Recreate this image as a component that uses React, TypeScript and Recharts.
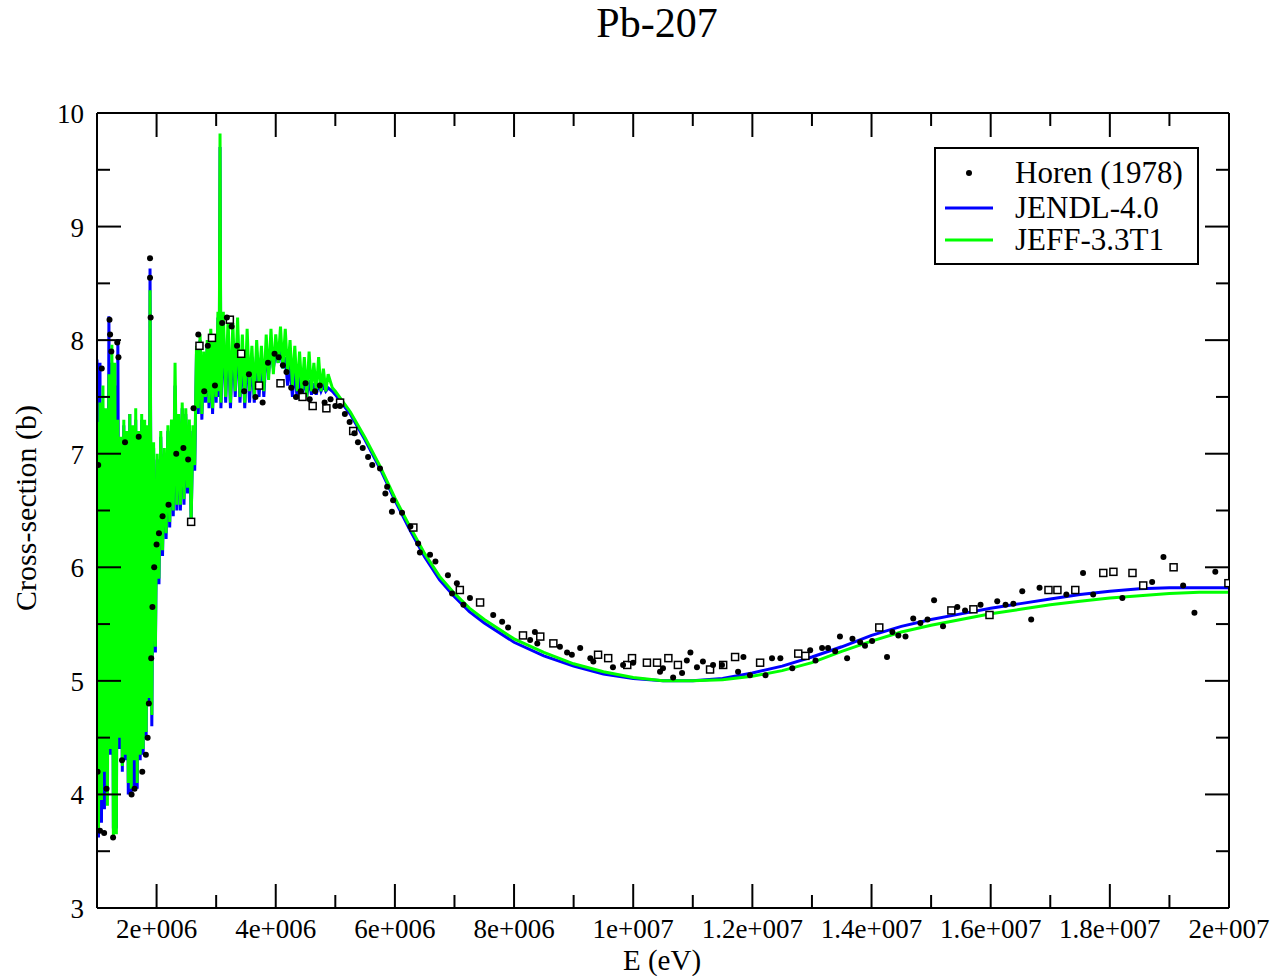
import React from 'react'
import { ComposedChart, Line, Scatter, XAxis, YAxis } from 'recharts'

const FONT = '"Liberation Serif", "Times New Roman", serif'
const BLUE = '#0000ff'
const GREEN = '#00ff00'
const INK = '#000'

// energies in MeV, cross-sections in barns
const resE = [
  1.000, 1.025, 1.050, 1.075, 1.100, 1.125, 1.150, 1.175, 1.200, 1.225, 1.250, 1.275, 1.300, 1.325, 1.350, 1.375,
  1.400, 1.425, 1.450, 1.475, 1.500, 1.525, 1.550, 1.575, 1.600, 1.625, 1.650, 1.675, 1.700, 1.725, 1.750, 1.775,
  1.800, 1.825, 1.850, 1.875, 1.890,
  1.92, 1.95, 1.98, 2.01, 2.04, 2.07, 2.10, 2.13, 2.16, 2.19, 2.22, 2.25, 2.28, 2.31, 2.34, 2.37, 2.40, 2.43, 2.46,
  2.49, 2.52, 2.55, 2.58, 2.61, 2.64, 2.67, 2.70, 2.73, 2.76, 2.79, 2.82, 2.85, 2.88, 2.91, 2.94, 2.97, 3.00, 3.03,
  3.05, 3.065, 3.08,
  3.12, 3.16, 3.20, 3.24, 3.28, 3.32, 3.36, 3.40, 3.44, 3.48, 3.52, 3.56, 3.60, 3.64, 3.68, 3.72, 3.76, 3.80, 3.84,
  3.88, 3.92, 3.96, 4.00, 4.04, 4.08, 4.12, 4.16, 4.20, 4.24, 4.28, 4.32, 4.36, 4.40, 4.44, 4.48, 4.52, 4.56, 4.60,
  4.64, 4.68, 4.72, 4.76, 4.80, 4.84, 4.88,
]
const jendlRes = [
  7.83, 3.62, 7.80, 3.75, 7.40, 3.87, 7.35, 4.20, 8.21, 4.35, 7.80, 3.70, 7.60, 3.70, 8.01, 4.40,
  7.10, 4.20, 7.25, 4.30, 7.15, 4.00, 7.35, 4.00, 7.20, 4.05, 7.30, 4.05, 7.15, 4.30, 7.30, 4.35,
  7.25, 4.50, 7.20, 4.80, 8.63,
  4.60, 7.05, 5.25, 6.95, 5.85, 7.15, 6.10, 7.00, 6.25, 7.20, 6.35, 7.25, 6.45, 7.60, 6.50, 7.30, 6.50, 7.40, 6.55,
  7.35, 6.65, 7.25, 6.40, 7.20, 6.85, 7.90, 7.35, 8.00, 7.30, 7.85, 7.45, 7.95, 7.40, 8.05, 7.35, 8.00, 7.45, 8.20,
  7.50, 9.70, 7.40,
  8.10, 7.45, 8.05, 7.40, 8.00, 7.50, 8.05, 7.45, 7.90, 7.40, 7.95, 7.45, 7.85, 7.45, 7.90, 7.50, 7.85, 7.50, 7.90,
  7.70, 7.95, 7.75, 7.90, 7.80, 7.92, 7.75, 7.85, 7.60, 7.80, 7.50, 7.75, 7.48, 7.70, 7.50, 7.68, 7.50, 7.65, 7.52,
  7.62, 7.52, 7.62, 7.55, 7.60, 7.55, 7.58,
]
const jeffRes = [
  7.28, 3.70, 7.45, 3.95, 7.60, 4.20, 7.40, 3.90, 7.70, 4.40, 7.96, 3.62, 7.80, 3.65, 7.30, 4.50,
  7.15, 4.25, 7.30, 4.35, 7.20, 4.10, 7.35, 4.05, 7.25, 4.30, 7.40, 4.10, 7.20, 4.35, 7.35, 4.40,
  7.30, 4.55, 7.25, 4.85, 8.44,
  4.70, 7.10, 5.30, 7.00, 5.90, 7.20, 6.15, 7.05, 6.30, 7.25, 6.40, 7.30, 6.50, 7.80, 6.55, 7.35, 6.55, 7.45, 6.60,
  7.40, 6.70, 7.30, 6.40, 7.25, 6.90, 7.95, 7.40, 8.05, 7.35, 7.90, 7.50, 8.00, 7.45, 8.10, 7.40, 8.05, 7.50, 8.25,
  7.55, 9.82, 7.45,
  8.25, 7.50, 8.20, 7.45, 8.15, 7.55, 8.20, 7.50, 8.05, 7.45, 8.10, 7.55, 7.95, 7.50, 8.00, 7.60, 7.95, 7.55, 8.05,
  7.65, 8.10, 7.70, 8.05, 7.80, 8.12, 7.75, 8.10, 7.70, 8.00, 7.60, 7.95, 7.55, 7.90, 7.55, 7.85, 7.50, 7.90, 7.55,
  7.80, 7.55, 7.85, 7.55, 7.75, 7.55, 7.70,
]
const smoothE = [
  4.95, 5.0, 5.25, 5.5, 5.75, 6.0, 6.25, 6.5, 6.75, 7.0, 7.25, 7.5, 8.0, 8.5, 9.0, 9.5, 10.0, 10.5, 11.0,
  11.5, 12.0, 12.5, 13.0, 13.5, 14.0, 14.5, 15.0, 15.5, 16.0, 16.5, 17.0, 17.5, 18.0, 18.5, 19.0, 19.5, 20.0,
]
const jendlSmooth = [
  7.55, 7.52, 7.35, 7.12, 6.87, 6.59, 6.33, 6.09, 5.89, 5.74, 5.61, 5.51, 5.34, 5.22, 5.13, 5.06, 5.02, 5.00, 5.00,
  5.02, 5.07, 5.13, 5.21, 5.30, 5.40, 5.48, 5.54, 5.59, 5.64, 5.68, 5.72, 5.76, 5.79, 5.81, 5.82, 5.82, 5.82,
]
const jeffSmooth = [
  7.58, 7.55, 7.37, 7.14, 6.89, 6.61, 6.36, 6.12, 5.92, 5.77, 5.64, 5.54, 5.37, 5.25, 5.15, 5.08, 5.03, 5.00, 5.00,
  5.01, 5.04, 5.09, 5.16, 5.26, 5.35, 5.43, 5.49, 5.54, 5.59, 5.63, 5.67, 5.70, 5.73, 5.75, 5.77, 5.78, 5.78,
]

// Horen (1978), filled dots
const horenE = [
  1.01, 1.02, 1.05, 1.08, 1.12, 1.16, 1.21, 1.22, 1.24, 1.27, 1.34, 1.36, 1.42, 1.47, 1.58, 1.63, 1.70, 1.76, 1.82,
  1.85, 1.87, 1.89, 1.89, 1.90, 1.91, 1.93, 1.96, 2.00, 2.04, 2.10, 2.20, 2.33, 2.45, 2.53, 2.62, 2.70, 2.80, 2.86,
  2.98, 3.10, 3.18, 3.26, 3.35, 3.47, 3.55, 3.66, 3.78, 3.87, 3.98, 4.05, 4.12, 4.18, 4.26, 4.34, 4.42, 4.50, 4.57,
  4.66, 4.74, 4.82, 4.92, 5.00, 5.08, 5.16, 5.24, 5.32, 5.38, 5.46, 5.55, 5.62,
  5.75, 5.84, 5.87, 5.95, 5.97, 6.12, 6.26, 6.39, 6.42, 6.59, 6.68, 6.89, 6.96, 7.04, 7.15, 7.26, 7.65, 7.80, 7.90,
  8.27, 8.35, 8.39, 8.77, 8.89, 8.97, 9.11, 9.28, 9.33, 9.66, 9.83, 10.00, 10.45, 10.50, 10.67, 10.82, 10.90, 10.96,
  11.07, 11.17, 11.34, 11.49, 11.76, 11.85, 11.96, 12.22, 12.33, 12.47, 12.67,
  12.97, 13.06, 13.17, 13.27, 13.39, 13.47, 13.59, 13.68, 13.81, 13.89, 14.01, 14.26, 14.35, 14.45, 14.57, 14.70,
  14.82, 14.94, 15.05, 15.20, 15.44, 15.57, 15.83, 16.11, 16.25, 16.38, 16.53, 16.68, 16.82, 17.27, 17.55, 17.72,
  18.21, 18.71, 18.90, 19.23, 19.42, 19.77,
]
const horenXS = [
  4.20, 6.90, 3.68, 7.75, 3.66, 4.05, 8.18, 8.05, 7.90, 3.62, 7.98, 7.85, 4.30, 7.10, 4.00, 4.05, 7.15, 4.20, 4.35,
  4.50, 4.80, 8.72, 8.55, 8.20, 5.20, 5.65, 6.00, 6.20, 6.30, 6.45, 6.55, 7.00, 7.05, 6.95, 7.40, 8.05, 7.55, 7.95,
  7.60, 8.15, 8.20, 8.12, 7.95, 7.55, 7.70, 7.50, 7.45, 7.80, 7.88, 7.85, 7.78, 7.72, 7.58, 7.50, 7.55, 7.62, 7.48,
  7.55, 7.60, 7.45, 7.48, 7.42, 7.42, 7.35, 7.28, 7.18, 7.10, 7.05, 6.97, 6.90,
  6.87, 6.65, 6.71, 6.49, 6.59, 6.48, 6.36, 6.21, 6.13, 6.11, 6.05, 5.93, 5.77, 5.86, 5.67, 5.73, 5.58, 5.52, 5.47,
  5.36, 5.43, 5.33, 5.30, 5.25, 5.23, 5.29, 5.20, 5.17, 5.12, 5.14, 5.16, 5.08, 5.11, 5.03, 5.07, 5.18, 5.25,
  5.12, 5.17, 5.14, 5.14, 5.08, 5.21, 5.05, 5.05, 5.20, 5.20, 5.11,
  5.27, 5.18, 5.29, 5.29, 5.26, 5.39, 5.20, 5.37, 5.34, 5.31, 5.35, 5.21, 5.43, 5.40, 5.39, 5.55,
  5.51, 5.54, 5.71, 5.48, 5.65, 5.62, 5.67, 5.70, 5.67, 5.68, 5.79, 5.54, 5.82, 5.76, 5.95, 5.76,
  5.73, 5.87, 6.09, 5.84, 5.60, 5.96,
]
// second experimental set, open squares (no legend entry)
const boxE = [
  2.58, 2.72, 2.93, 3.23, 3.42, 3.72, 4.08, 4.45, 4.62, 4.85, 5.08, 5.30, 6.31, 7.09, 7.43, 8.15, 8.44, 8.66, 9.41,
  9.58, 9.90, 9.98, 10.23, 10.40, 10.59, 10.75, 11.29, 11.51, 11.71, 12.13, 12.77, 12.89, 14.13, 15.34, 15.71, 15.98,
  16.97, 17.12, 17.42, 17.89, 18.06, 18.38, 18.56, 19.07, 19.99,
]
const boxXS = [
  6.40, 7.95, 8.02, 8.18, 7.88, 7.60, 7.62, 7.50, 7.42, 7.40, 7.45, 7.20, 6.35, 5.80, 5.69, 5.40, 5.39, 5.33, 5.23,
  5.20, 5.14, 5.20, 5.16, 5.16, 5.20, 5.14, 5.10, 5.14, 5.21, 5.16, 5.24, 5.22, 5.47, 5.62, 5.63, 5.58,
  5.80, 5.80, 5.80, 5.95, 5.96, 5.95, 5.84, 6.00, 5.86,
]

const xMajor = [2e6, 4e6, 6e6, 8e6, 1e7, 1.2e7, 1.4e7, 1.6e7, 1.8e7, 2e7]
const xMinor = [3e6, 5e6, 7e6, 9e6, 1.1e7, 1.3e7, 1.5e7, 1.7e7, 1.9e7]
const yMajor = [3, 4, 5, 6, 7, 8, 9, 10]
const yMinor = [3.5, 4.5, 5.5, 6.5, 7.5, 8.5, 9.5]

const toPts = (es: number[], vs: number[]) => es.map((e, i) => ({ e: e * 1e6, v: vs[i] }))
const jendlData = [...toPts(resE, jendlRes), ...toPts(smoothE, jendlSmooth)]
const jeffData = [...toPts(resE, jeffRes), ...toPts(smoothE, jeffSmooth)]
const horenData = toPts(horenE, horenXS)
const boxData = toPts(boxE, boxXS)

const fmtE = (v: number) => {
  const exp = Math.floor(Math.log10(v))
  const m = +(v / 10 ** exp).toFixed(3)
  return `${m}e+${String(exp).padStart(3, '0')}`
}

const MAJ = 24
const MIN = 13
const TICK_FS = 27

function BottomTick({ x, y, payload }: any) {
  const major = xMajor.includes(payload.value)
  return (
    <g>
      <line x1={x} x2={x} y1={y} y2={y - (major ? MAJ : MIN)} stroke={INK} strokeWidth={2} />
      {major && (
        <text x={x} y={y + 30} textAnchor="middle" fontFamily={FONT} fontSize={TICK_FS} fill={INK}>
          {fmtE(payload.value)}
        </text>
      )}
    </g>
  )
}
function TopTick({ x, y, payload }: any) {
  const major = xMajor.includes(payload.value)
  return <line x1={x} x2={x} y1={y} y2={y + (major ? MAJ : MIN)} stroke={INK} strokeWidth={2} />
}
function LeftTick({ x, y, payload }: any) {
  const major = yMajor.includes(payload.value)
  return (
    <g>
      <line x1={x} x2={x + (major ? MAJ : MIN)} y1={y} y2={y} stroke={INK} strokeWidth={2} />
      {major && (
        <text x={x - 13} y={y + 10} textAnchor="end" fontFamily={FONT} fontSize={TICK_FS} fill={INK}>
          {payload.value}
        </text>
      )}
    </g>
  )
}
function RightTick({ x, y, payload }: any) {
  const major = yMajor.includes(payload.value)
  return <line x1={x} x2={x - (major ? MAJ : MIN)} y1={y} y2={y} stroke={INK} strokeWidth={2} />
}

const Dot = (p: any) => <circle cx={p.cx} cy={p.cy} r={3} fill={INK} />
const Box = (p: any) => (
  <rect x={p.cx - 3.5} y={p.cy - 3.5} width={7} height={7} fill="#fff" stroke={INK} strokeWidth={1.5} />
)

const axisLine = { stroke: INK, strokeWidth: 2 }
const xTicks = [...xMajor, ...xMinor].sort((a, b) => a - b)
const yTicks = [...yMajor, ...yMinor].sort((a, b) => a - b)

export default function App() {
  return (
    <div style={{ position: 'absolute', left: 0, top: 0, width: 1281, height: 976, background: '#fff' }}>
      <ComposedChart width={1281} height={976} margin={{ top: 112, right: 51, bottom: 0, left: 0 }}>
        <XAxis xAxisId="b" dataKey="e" type="number" scale="linear" domain={[1e6, 2e7]} allowDataOverflow
          ticks={xTicks} interval={0} height={68} tickSize={0} tickMargin={0} tickLine={false}
          axisLine={axisLine} tick={<BottomTick />} />
        <XAxis xAxisId="t" orientation="top" dataKey="e" type="number" scale="linear" domain={[1e6, 2e7]} allowDataOverflow
          ticks={xTicks} interval={0} height={1} tickSize={0} tickMargin={0} tickLine={false}
          axisLine={axisLine} tick={<TopTick />} />
        <YAxis yAxisId="l" dataKey="v" type="number" domain={[3, 10]} allowDataOverflow
          ticks={yTicks} interval={0} width={97} tickSize={0} tickMargin={0} tickLine={false}
          axisLine={axisLine} tick={<LeftTick />} />
        <YAxis yAxisId="r" orientation="right" dataKey="v" type="number" domain={[3, 10]} allowDataOverflow
          ticks={yTicks} interval={0} width={1} tickSize={0} tickMargin={0} tickLine={false}
          axisLine={axisLine} tick={<RightTick />} />
        <Line xAxisId="t" yAxisId="r" data={jendlData} dataKey="v" type="linear" stroke={BLUE} strokeWidth={3}
          dot={false} activeDot={false} isAnimationActive={false} />
        <Line xAxisId="t" yAxisId="r" data={jeffData} dataKey="v" type="linear" stroke={GREEN} strokeWidth={3}
          dot={false} activeDot={false} isAnimationActive={false} />
        <Scatter xAxisId="b" yAxisId="l" data={boxData} dataKey="v" shape={Box} isAnimationActive={false} />
        <Scatter xAxisId="b" yAxisId="l" data={horenData} dataKey="v" shape={Dot} isAnimationActive={false} />
      </ComposedChart>

      <svg width={1281} height={976} style={{ position: 'absolute', left: 0, top: 0, pointerEvents: 'none' }}>
        <text x={657} y={37} textAnchor="middle" fontFamily={FONT} fontSize={42} fill={INK}>Pb-207</text>
        <text x={662} y={970} textAnchor="middle" fontFamily={FONT} fontSize={29} fill={INK}>E (eV)</text>
        <text transform="translate(36,508) rotate(-90)" textAnchor="middle" fontFamily={FONT} fontSize={30} fill={INK}>
          Cross-section (b)
        </text>
        <g>
          <rect x={935} y={148} width={263} height={116} fill="#fff" stroke={INK} strokeWidth={2} />
          <circle cx={969} cy={173} r={3} fill={INK} />
          <text x={1015} y={183} fontFamily={FONT} fontSize={31} fill={INK}>Horen (1978)</text>
          <line x1={945} x2={993} y1={208} y2={208} stroke={BLUE} strokeWidth={3} />
          <text x={1015} y={218} fontFamily={FONT} fontSize={31} fill={INK}>JENDL-4.0</text>
          <line x1={945} x2={993} y1={240} y2={240} stroke={GREEN} strokeWidth={3} />
          <text x={1015} y={250} fontFamily={FONT} fontSize={31} fill={INK}>JEFF-3.3T1</text>
        </g>
      </svg>
    </div>
  )
}
